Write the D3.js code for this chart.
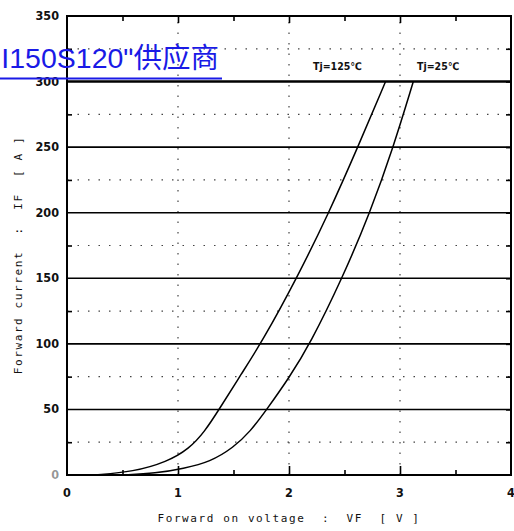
<!DOCTYPE html>
<html>
<head>
<meta charset="utf-8">
<script src="https://cdn.jsdelivr.net/npm/d3@7"></script>
<style>
  body { margin: 0; background: #fff; }
  svg { display: block; }
  .tick-label { font-family: "DejaVu Sans Condensed", "DejaVu Sans", sans-serif; font-weight: bold; font-size: 12.5px; fill: #111; }
  .title { font-family: "DejaVu Sans Mono", monospace; font-size: 11px; fill: #111; white-space: pre; }
</style>
</head>
<body>
<div id="chart"></div>
<script>
// Chart values
const yTicks = [0, 50, 100, 150, 200, 250, 300, 350];
const xTicks = [0, 1, 2, 3, 4];
const dotRows = [25, 75, 125, 175, 225, 275, 325];
const dotCols = [1, 2, 3];

// Forward voltage [V] vs forward current [A]
const tj125V = [0.25, 0.6, 0.9, 1.1, 1.24, 1.37, 1.57, 1.76, 2.07, 2.36, 2.62, 2.87];
const tj125I = [0, 2.5, 10, 20, 33, 50, 77, 102, 150, 200, 250, 300];
const tj25V = [0.5, 0.8, 1.05, 1.29, 1.5, 1.65, 1.8, 2.0, 2.19, 2.48, 2.73, 2.94, 3.12];
const tj25I = [0, 1.2, 5, 10, 21, 33, 50, 74, 100, 150, 200, 250, 300];

const width = 514, height = 531;
const margin = {top: 16, right: 3, bottom: 56, left: 67};
const pw = width - margin.left - margin.right;
const ph = height - margin.top - margin.bottom;

const svg = d3.select("#chart").append("svg")
  .attr("width", width)
  .attr("height", height);

const x = d3.scaleLinear().domain([0, 4]).range([margin.left, margin.left + pw]);
const y = d3.scaleLinear().domain([0, 350]).range([margin.top + ph, margin.top]);

// Dotted grid
svg.selectAll(".hdot").data(dotRows).enter().append("line")
  .attr("x1", x(0)).attr("x2", x(4))
  .attr("y1", d => y(d)).attr("y2", d => y(d))
  .attr("stroke", "#444").attr("stroke-width", 1.2)
  .attr("stroke-dasharray", "1.5,9");
svg.selectAll(".vdot").data(dotCols).enter().append("line")
  .attr("x1", d => x(d)).attr("x2", d => x(d))
  .attr("y1", y(0)).attr("y2", y(350))
  .attr("stroke", "#444").attr("stroke-width", 1.2)
  .attr("stroke-dasharray", "1.5,9");

// Solid horizontal grid
svg.selectAll(".hgrid").data(yTicks.filter(d => d > 0 && d < 350)).enter().append("line")
  .attr("x1", x(0)).attr("x2", x(4))
  .attr("y1", d => y(d)).attr("y2", d => y(d))
  .attr("stroke", "#000")
  .attr("stroke-width", d => d === 300 ? 2.4 : 1.6);

// Inward ticks
const gy = svg.append("g").attr("transform", `translate(${x(0)},0)`)
  .call(d3.axisRight(y).tickValues(d3.range(25, 350, 50)).tickSize(5).tickFormat(""));
const gyr = svg.append("g").attr("transform", `translate(${x(4)},0)`)
  .call(d3.axisLeft(y).tickValues(d3.range(25, 350, 25)).tickSize(5).tickFormat(""));
const gx = svg.append("g").attr("transform", `translate(0,${y(0)})`)
  .call(d3.axisTop(x).tickValues(d3.range(0.5, 4, 0.5)).tickSize(6).tickFormat(""));
const gxt = svg.append("g").attr("transform", `translate(0,${y(350)})`)
  .call(d3.axisBottom(x).tickValues(d3.range(0.5, 4, 0.5)).tickSize(6).tickFormat(""));
[gy, gyr, gx, gxt].forEach(g => {
  g.select(".domain").remove();
  g.selectAll("line").attr("stroke", "#000").attr("stroke-width", 1.6);
});
gx.selectAll(".tick line").attr("y2", d => Number.isInteger(d) ? -9 : -5);
gxt.selectAll(".tick line").attr("y2", d => Number.isInteger(d) ? 7 : 5);

// Frame
svg.append("rect")
  .attr("x", x(0)).attr("y", y(350))
  .attr("width", x(4) - x(0)).attr("height", y(0) - y(350))
  .attr("fill", "none").attr("stroke", "#000").attr("stroke-width", 2);

// Tick labels
svg.selectAll(".ylab").data(yTicks).enter().append("text")
  .attr("class", "tick-label")
  .attr("x", x(0) - 8).attr("y", d => y(d) + 4)
  .attr("text-anchor", "end")
  .attr("fill-opacity", d => d === 0 ? 0.45 : 1)
  .text(d => d);
svg.selectAll(".xlab").data(xTicks).enter().append("text")
  .attr("class", "tick-label")
  .attr("x", d => x(d)).attr("y", y(0) + 22)
  .attr("text-anchor", "middle")
  .text(d => d);

// Curves
const line = d3.line().x(d => x(d[0])).y(d => y(d[1])).curve(d3.curveBasis);
[[tj125V, tj125I], [tj25V, tj25I]].forEach(([vs, is]) => {
  svg.append("path")
    .datum(vs.map((v, i) => [v, is[i]]))
    .attr("d", line)
    .attr("fill", "none")
    .attr("stroke", "#000")
    .attr("stroke-width", 1.5);
});

// Curve labels
svg.append("text").attr("class", "tick-label")
  .attr("x", 313).attr("y", 70).style("font-size", "10.5px")
  .text("Tj=125℃");
svg.append("text").attr("class", "tick-label")
  .attr("x", 417).attr("y", 70).style("font-size", "10.5px")
  .text("Tj=25℃");

// Axis titles
svg.append("text").attr("class", "title")
  .attr("x", 289).attr("y", 522)
  .attr("text-anchor", "middle")
  .style("letter-spacing", "1.6px")
  .text("Forward on voltage  :  VF  [ V ]");
svg.append("text").attr("class", "title")
  .attr("transform", "translate(22,255) rotate(-90)")
  .attr("text-anchor", "middle")
  .style("letter-spacing", "1.6px")
  .text("Forward current  :  IF  [ A ]");

// Blue overlay text with underline
svg.append("text")
  .attr("x", 219).attr("y", 68)
  .attr("text-anchor", "end")
  .style("font-family", "'Liberation Sans', 'Noto Sans CJK SC', sans-serif")
  .style("font-size", "28.5px")
  .attr("fill", "#1a1ae6")
  .text("I150S120\"供应商");
svg.append("line")
  .attr("x1", 0).attr("x2", 222)
  .attr("y1", 78.5).attr("y2", 78.5)
  .attr("stroke", "#1a1ae6").attr("stroke-width", 2);
</script>
</body>
</html>
